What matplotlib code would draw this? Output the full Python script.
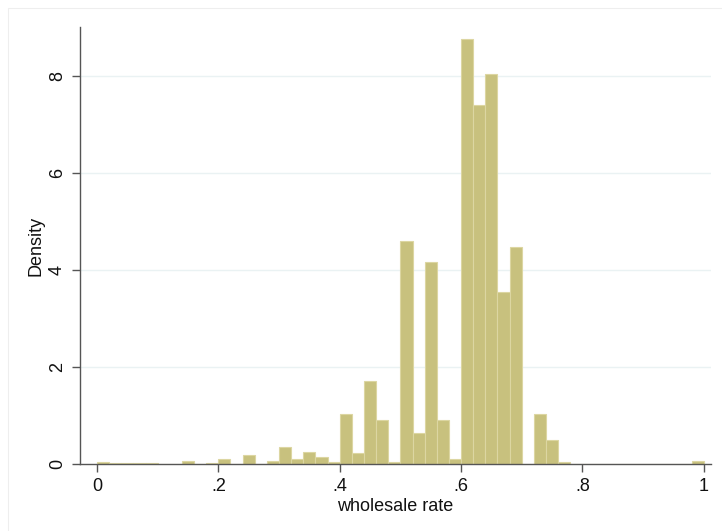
import matplotlib
matplotlib.use("Agg")
import matplotlib.pyplot as plt
import numpy as np
from matplotlib.patches import Rectangle

plt.rcParams['font.family'] = ['Liberation Sans', 'DejaVu Sans']

# histogram of wholesale rate, bins of width .02 starting at 0
bin_width = 0.02
bin_starts = [round(i * bin_width, 2) for i in range(50)]
density = [0.05, 0.02, 0.02, 0.02, 0.02, 0.0, 0.01, 0.06, 0.01, 0.02,
           0.10, 0.01, 0.18, 0.01, 0.06, 0.34, 0.10, 0.25, 0.14, 0.04,
           1.03, 0.22, 1.70, 0.91, 0.05, 4.60, 0.63, 4.15, 0.90, 0.11,
           8.76, 7.40, 8.04, 3.55, 4.46, 0.01, 1.02, 0.50, 0.05, 0.01,
           0.0, 0.01, 0.01, 0.01, 0.01, 0.01, 0.01, 0.01, 0.01, 0.07]

x_ticks = [0, 0.2, 0.4, 0.6, 0.8, 1]
x_labels = ['0', '.2', '.4', '.6', '.8', '1']
y_ticks = [0, 2, 4, 6, 8]

fig = plt.figure(figsize=(7.22, 5.31), dpi=100)
fig.patch.set_facecolor('white')
# faint outer graph frame
fig.patches.append(Rectangle((0.011, -0.01), 0.995, 0.995, transform=fig.transFigure,
                             fill=False, edgecolor='#eeeeee', linewidth=0.8))

ax = fig.add_axes([0.1108, 0.1262, 0.874, 0.823])
ax.bar(bin_starts, density, width=bin_width, align='edge',
       color='#c8c17e', edgecolor='#dcd6a2', linewidth=0.8, zorder=3)

ax.set_xlim(-0.028, 1.012)
ax.set_ylim(0, 9.0)
ax.set_xticks(x_ticks)
ax.set_xticklabels(x_labels)
ax.set_yticks(y_ticks)
ax.set_yticklabels([str(v) for v in y_ticks], rotation=90, va='center')

for v in y_ticks[1:]:
    ax.axhline(v, color='#eaf2f3', linewidth=1.0, zorder=1)

for side in ['top', 'right']:
    ax.spines[side].set_visible(False)
for side in ['left', 'bottom']:
    ax.spines[side].set_color('#555555')
    ax.spines[side].set_linewidth(1.0)
    ax.spines[side].set_zorder(4)

ax.tick_params(axis='both', direction='out', length=6, width=1.0,
               color='#555555', labelsize=13, labelcolor='#111111', pad=4)
ax.set_xlabel('wholesale rate', fontsize=13, color='#111111', labelpad=2)
ax.set_ylabel('Density', fontsize=13, color='#111111', labelpad=3)

fig.savefig('out.png', dpi=100, facecolor='white')
